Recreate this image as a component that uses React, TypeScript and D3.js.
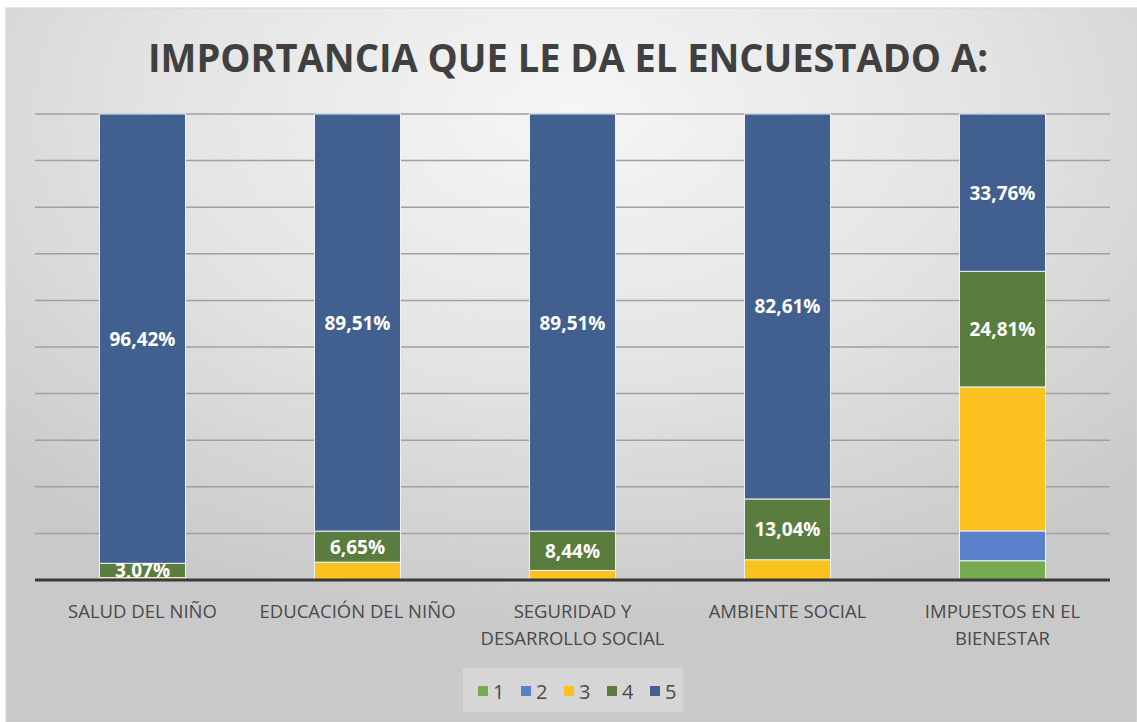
import { useRef, useEffect } from 'react';
import * as d3 from 'd3';

const categories = [
  'SALUD DEL NIÑO',
  'EDUCACIÓN DEL NIÑO',
  'SEGURIDAD Y DESARROLLO SOCIAL',
  'AMBIENTE SOCIAL',
  'IMPUESTOS EN EL BIENESTAR',
];
const seriesNames = ['1', '2', '3', '4', '5'];
const s1 = [0, 0, 0, 0, 4.14];
const s2 = [0, 0, 0, 0, 6.39];
const s3 = [0.51, 3.84, 2.05, 4.35, 30.9];
const s4 = [3.07, 6.65, 8.44, 13.04, 24.81];
const s5 = [96.42, 89.51, 89.51, 82.61, 33.76];
const labelledSeries = ['4', '5'];
const yTicks = [0, 10, 20, 30, 40, 50, 60, 70, 80, 90, 100];
const colors = ['#77ab4f', '#5a7fcb', '#fbc11f', '#5a7c3e', '#41608f'];
const title = 'IMPORTANCIA QUE LE DA EL ENCUESTADO A:';

const W = 1137;
const H = 722;
const FONT = '"Open Sans", "DejaVu Sans", sans-serif';

function wrap(text: string, max: number) {
  const words = text.split(' ');
  const lines: string[] = [];
  let cur = '';
  words.forEach((w) => {
    const t = cur ? cur + ' ' + w : w;
    if (t.length > max && cur) {
      lines.push(cur);
      cur = w;
    } else cur = t;
  });
  if (cur) lines.push(cur);
  return lines;
}

export default function App() {
  const svgRef = useRef<SVGSVGElement>(null);

  useEffect(() => {
    const svg = d3.select(svgRef.current);
    svg.selectAll('*').remove();

    const defs = svg.append('defs');
    const grad = defs
      .append('radialGradient')
      .attr('id', 'bg')
      .attr('cx', '50%')
      .attr('cy', '15%')
      .attr('r', '72%');
    grad.append('stop').attr('offset', '0%').attr('stop-color', '#f6f6f6');
    grad.append('stop').attr('offset', '50%').attr('stop-color', '#e4e4e4');
    grad.append('stop').attr('offset', '100%').attr('stop-color', '#c9c9c9');

    svg
      .append('rect')
      .attr('x', 6)
      .attr('y', 8)
      .attr('width', W - 6)
      .attr('height', H - 8)
      .attr('fill', 'url(#bg)')
      .attr('stroke', '#d6d6d6');

    svg
      .append('text')
      .text(title)
      .attr('x', 568)
      .attr('y', 72)
      .attr('text-anchor', 'middle')
      .attr('font-family', FONT)
      .attr('font-weight', 700)
      .attr('font-size', 40)
      .attr('textLength', 840)
      .attr('lengthAdjust', 'spacingAndGlyphs')
      .attr('fill', '#404040');

    const x = d3.scaleBand().domain(categories).range([35, 1110]).paddingInner(0.6).paddingOuter(0.3);
    const y = d3.scaleLinear().domain([0, 100]).range([580, 114]);

    svg
      .append('g')
      .selectAll('line')
      .data(yTicks.slice(1))
      .join('line')
      .attr('x1', 35)
      .attr('x2', 1110)
      .attr('y1', (d) => y(d))
      .attr('y2', (d) => y(d))
      .attr('stroke', '#a0a0a0')
      .attr('stroke-width', 1.5);

    const rows = categories.map((c, i) => ({
      cat: c,
      '1': s1[i],
      '2': s2[i],
      '3': s3[i],
      '4': s4[i],
      '5': s5[i],
    }));
    const stacked = d3.stack<any>().keys(seriesNames)(rows);
    const color = d3.scaleOrdinal<string, string>().domain(seriesNames).range(colors);

    const layers = svg
      .append('g')
      .selectAll('g')
      .data(stacked)
      .join('g')
      .attr('fill', (d) => color(d.key));

    layers
      .selectAll('rect')
      .data((d) => d.filter((p) => p[1] - p[0] > 0))
      .join('rect')
      .attr('x', (d) => x(d.data.cat)!)
      .attr('width', x.bandwidth())
      .attr('y', (d) => y(d[1]))
      .attr('height', (d) => y(d[0]) - y(d[1]))
      .attr('stroke', '#eef2f7')
      .attr('stroke-width', 1);

    const fmt = (v: number) => d3.format('.2f')(v).replace('.', ',') + '%';
    const labelLayers = svg
      .append('g')
      .selectAll('g')
      .data(stacked.filter((s) => labelledSeries.includes(s.key)))
      .join('g');
    labelLayers
      .selectAll('text')
      .data((d) => d)
      .join('text')
      .text((d) => fmt(d[1] - d[0]))
      .attr('x', (d) => x(d.data.cat)! + x.bandwidth() / 2)
      .attr('y', (d) => (y(d[0]) + y(d[1])) / 2 + 7)
      .attr('text-anchor', 'middle')
      .attr('font-family', FONT)
      .attr('font-weight', 700)
      .attr('font-size', 19)
      .attr('fill', '#ffffff');

    svg
      .append('line')
      .attr('x1', 35)
      .attr('x2', 1110)
      .attr('y1', y(0))
      .attr('y2', y(0))
      .attr('stroke', '#3a3a3a')
      .attr('stroke-width', 3);

    const catLabels = svg
      .append('g')
      .selectAll('text')
      .data(categories)
      .join('text')
      .attr('x', (d) => x(d)! + x.bandwidth() / 2)
      .attr('y', 618)
      .attr('text-anchor', 'middle')
      .attr('font-family', FONT)
      .attr('font-size', 18.5)
      .attr('fill', '#4a4a4a');
    catLabels
      .selectAll('tspan')
      .data((d) => wrap(d, 18))
      .join('tspan')
      .attr('x', function () {
        return (this as any).parentNode.getAttribute('x');
      })
      .attr('dy', (_d, i) => (i === 0 ? 0 : 27))
      .text((d) => d);

    // legend
    const legend = svg.append('g');
    legend
      .append('rect')
      .attr('x', 463)
      .attr('y', 668)
      .attr('width', 220)
      .attr('height', 44)
      .attr('fill', '#e4e4e4')
      .attr('opacity', 0.5);
    const items = legend
      .selectAll('g')
      .data(seriesNames)
      .join('g')
      .attr('transform', (_d, i) => `translate(${478 + i * 43},0)`);
    items
      .append('rect')
      .attr('x', 0)
      .attr('y', 686)
      .attr('width', 10)
      .attr('height', 10)
      .attr('fill', (d) => color(d));
    items
      .append('text')
      .text((d) => d)
      .attr('x', 15)
      .attr('y', 699)
      .attr('font-family', FONT)
      .attr('font-size', 20)
      .attr('fill', '#4a4a4a');
  }, []);

  return (
    <svg
      ref={svgRef}
      width={W}
      height={H}
      style={{ position: 'absolute', left: 0, top: 0, display: 'block' }}
    />
  );
}
